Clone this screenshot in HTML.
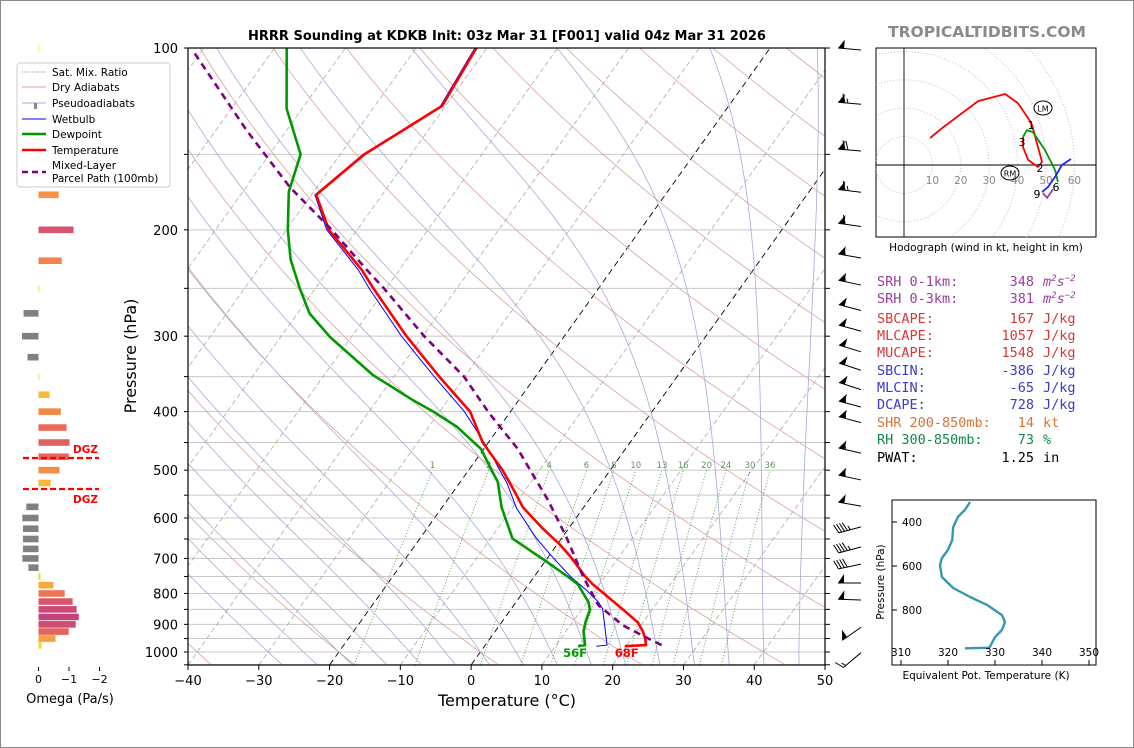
<!DOCTYPE html>
<html><head><meta charset="utf-8"><style>
html,body{margin:0;padding:0;background:#fff;}
svg{display:block;font-family:"DejaVu Sans","Liberation Sans",sans-serif;}
.mono{font-family:"DejaVu Sans Mono","Liberation Mono",monospace;font-size:13.5px;}
</style></head><body>
<svg id="svg" width="1134" height="748" viewBox="0 0 1134 748" xmlns="http://www.w3.org/2000/svg">
<defs><clipPath id="mainclip"><rect x="188" y="48" width="637" height="617"/></clipPath>
<clipPath id="hodoclip"><rect x="876" y="48" width="220" height="189"/></clipPath>
<clipPath id="thclip"><rect x="892" y="500" width="204" height="165"/></clipPath></defs>
<rect x="0.5" y="0.5" width="1133" height="747" fill="#fff" stroke="#888"/>
<text x="507" y="40" font-size="13" font-weight="bold" text-anchor="middle">HRRR Sounding at KDKB Init: 03z Mar 31 [F001] valid 04z Mar 31 2026</text>
<text x="987" y="37" font-size="15.5" font-weight="bold" fill="#8a8a8a" text-anchor="middle">TROPICALTIDBITS.COM</text>
<g id="bg" clip-path="url(#mainclip)"></g>
<g id="series" clip-path="url(#mainclip)"></g>
<rect x="188" y="48" width="637" height="617" fill="none" stroke="#000" stroke-width="1.2"/>
<g id="axes"></g>
<text x="507" y="706" font-size="16" text-anchor="middle">Temperature (°C)</text>
<text x="136" y="356" font-size="16" text-anchor="middle" transform="rotate(-90 136 356)">Pressure (hPa)</text>
<g id="barbs"></g>
<g id="omega"></g>
<text x="70" y="703" font-size="13" text-anchor="middle">Omega (Pa/s)</text>
<g id="legend">
<rect x="17" y="63" width="153" height="124" rx="3" fill="#fff" fill-opacity="0.8" stroke="#ccc"/>
<line x1="22" y1="72" x2="46" y2="72" stroke="#5a9a5a" stroke-dasharray="1,1.5"/>
<text x="52" y="76" font-size="10.5">Sat. Mix. Ratio</text>
<line x1="22" y1="87" x2="46" y2="87" stroke="#dca0a0"/>
<text x="52" y="91" font-size="10.5">Dry Adiabats</text>
<line x1="22" y1="103" x2="46" y2="103" stroke="#a8a8dc"/>
<rect x="34" y="103" width="3" height="6" fill="#888"/>
<text x="52" y="107" font-size="10.5">Pseudoadiabats</text>
<line x1="22" y1="119" x2="46" y2="119" stroke="#0000ff" stroke-width="1"/>
<text x="52" y="123" font-size="10.5">Wetbulb</text>
<line x1="22" y1="134" x2="46" y2="134" stroke="#009900" stroke-width="2.5"/>
<text x="52" y="138" font-size="10.5">Dewpoint</text>
<line x1="22" y1="150" x2="46" y2="150" stroke="#ff0000" stroke-width="2.5"/>
<text x="52" y="154" font-size="10.5">Temperature</text>
<line x1="22" y1="172" x2="46" y2="172" stroke="#800080" stroke-width="2.5" stroke-dasharray="6,4"/>
<text x="52" y="169" font-size="10.5">Mixed-Layer</text>
<text x="52" y="182" font-size="10.5">Parcel Path (100mb)</text>
</g>
<g id="hodo"></g>
<text x="986" y="251" font-size="10.5" text-anchor="middle">Hodograph (wind in kt, height in km)</text>
<g class="mono">
<text x="877" y="286" fill="#9b3ca0">SRH 0-1km:</text><text x="1034" y="286" fill="#9b3ca0" text-anchor="end">348</text><text x="1043" y="286" fill="#9b3ca0" font-style="italic">m<tspan font-size="9" dy="-5">2</tspan><tspan dy="5">s</tspan><tspan font-size="9" dy="-5">−2</tspan></text>
<text x="877" y="303" fill="#9b3ca0">SRH 0-3km:</text><text x="1034" y="303" fill="#9b3ca0" text-anchor="end">381</text><text x="1043" y="303" fill="#9b3ca0" font-style="italic">m<tspan font-size="9" dy="-5">2</tspan><tspan dy="5">s</tspan><tspan font-size="9" dy="-5">−2</tspan></text>
<text x="877" y="323" fill="#d43a3a">SBCAPE:</text><text x="1034" y="323" fill="#d43a3a" text-anchor="end">167</text><text x="1043" y="323" fill="#d43a3a">J/kg</text>
<text x="877" y="340" fill="#d43a3a">MLCAPE:</text><text x="1034" y="340" fill="#d43a3a" text-anchor="end">1057</text><text x="1043" y="340" fill="#d43a3a">J/kg</text>
<text x="877" y="357" fill="#d43a3a">MUCAPE:</text><text x="1034" y="357" fill="#d43a3a" text-anchor="end">1548</text><text x="1043" y="357" fill="#d43a3a">J/kg</text>
<text x="877" y="375" fill="#3a3acc">SBCIN:</text><text x="1034" y="375" fill="#3a3acc" text-anchor="end">-386</text><text x="1043" y="375" fill="#3a3acc">J/kg</text>
<text x="877" y="392" fill="#3a3acc">MLCIN:</text><text x="1034" y="392" fill="#3a3acc" text-anchor="end">-65</text><text x="1043" y="392" fill="#3a3acc">J/kg</text>
<text x="877" y="409" fill="#3a3acc">DCAPE:</text><text x="1034" y="409" fill="#3a3acc" text-anchor="end">728</text><text x="1043" y="409" fill="#3a3acc">J/kg</text>
<text x="877" y="427" fill="#d8743a">SHR 200-850mb:</text><text x="1034" y="427" fill="#d8743a" text-anchor="end">14</text><text x="1043" y="427" fill="#d8743a">kt</text>
<text x="877" y="444" fill="#108a4a">RH 300-850mb:</text><text x="1034" y="444" fill="#108a4a" text-anchor="end">73</text><text x="1043" y="444" fill="#108a4a">%</text>
<text x="877" y="462" fill="#000">PWAT:</text><text x="1034" y="462" fill="#000" text-anchor="end">1.25</text><text x="1043" y="462" fill="#000">in</text>
</g>
<g id="theta"></g>
<text x="986" y="679" font-size="10.5" text-anchor="middle">Equivalent Pot. Temperature (K)</text>
<text x="884" y="582" font-size="10.5" text-anchor="middle" transform="rotate(-90 884 582)">Pressure (hPa)</text>
</svg>
<script>
// ---- data ----
const tempP = [978,974,952,925,894,851,772,750,695,664,623,576,550,500,450,400,350,300,250,233,200,175,150,124.7,100];
const tempT = [19.8,22.7,22.0,20.9,19.3,15.9,9.0,7.2,3.1,0.4,-3.8,-8.6,-10.7,-15.2,-20.8,-25.7,-33.6,-42.3,-51.8,-55.3,-64,-69.3,-66.6,-60.5,-61.5];
const dewP = [978,974,925,890,851,826,772,750,710,649,576,523,494,461,424,400,383,348,301,275,250,224,200,173,150,126,100];
const dewT = [13.2,14.1,12.5,11.8,11.2,10.2,6.9,4.7,0.4,-6.9,-11.6,-14.7,-17.3,-20.4,-26,-30.9,-34.9,-43.1,-53,-58.3,-62.2,-66.4,-69.8,-73.5,-75.6,-82.2,-88.3];
const wetP = [978,974,910,848,826,792,750,695,649,578,525,461,400,350,300,250,233,200,175,150,125,100];
const wetT = [15.8,17.2,15.1,12.9,11.6,8.9,5.1,0.5,-3.5,-9.4,-13.3,-19.4,-26.5,-34.3,-43.0,-52.4,-55.8,-64.3,-69.5,-66.8,-60.7,-61.7];
const parcelP = [974,940,903,836,750,646,560,500,461,402,350,300,250,233,200,170,137,101];
const parcelT = [24.9,21.3,17.4,11.9,6.9,0.6,-5.8,-11.3,-15.2,-22.9,-30.1,-39.8,-50.3,-54.6,-63.6,-73.8,-85.6,-101.3];
const omegaP = [100,125,150,175,200,225,250,275,300,325,350,375,400,425,450,475,500,525,575,600,625,650,675,700,725,750,775,800,825,850,875,900,925,950,975];
const omegaVal = [-0.01,-0.02,-0.02,-0.66,-1.15,-0.76,-0.03,0.49,0.54,0.36,-0.03,-0.36,-0.73,-0.92,-1.02,-0.99,-0.69,-0.40,0.40,0.53,0.51,0.51,0.51,0.53,0.33,-0.07,-0.49,-0.86,-1.12,-1.25,-1.32,-1.22,-0.99,-0.56,-0.10];
const barbP = [100,123,147,172,196,221,245,270,292,316,339,365,390,414,465,515,569,616,665,710,763,814,903,995];
const barbSpd = [50,65,70,65,60,55,55,50,50,50,50,50,55,55,55,55,50,45,45,40,50,50,50,15];
const barbDir = [275,275,275,277,278,280,282,285,285,287,288,288,285,285,283,282,280,255,255,258,270,272,235,230];
const hodoRedU = [9.2,13.4,26.1,35.6,40.1,43.7,45.1,47.2,48.6,47.2,43.7,41.9,41.9];
const hodoRedV = [9.5,13.0,22.5,25.0,21.8,16.5,14.1,6.3,1.1,-0.7,1.8,6.3,9.9];
const hodoGreenU = [41.9,43.3,45.4,49.6,53.2,54.2];
const hodoGreenV = [9.9,12.3,11.6,5.3,-1.8,-6.0];
const hodoBlueU = [58.8,55.6,53.2,50.7,48.6];
const hodoBlueV = [2.1,0,-4.2,-7.7,-9.5];
const hodoPurpleU = [48.9,50.4,52.5];
const hodoPurpleV = [-9.9,-11.6,-8.5];
const thetaE = [324.7,323.6,322.1,321.1,320.9,320,318.7,318.3,318.7,321.1,324.7,328.3,331.5,332.1,331.5,330,328.9,328.5,323.6];
const thetaP = [309,345,377,423,482,527,564,595,650,700,741,777,823,855,891,923,968,972,974];
const xTicks = [-40,-30,-20,-10,0,10,20,30,40,50];
const pTicks = [100,200,300,400,500,600,700,800,900,1000];
const mixRatios = [1,2,4,6,8,10,13,16,20,24,30,36];
const omegaTicks = [0,-1,-2];
const hodoRings = [10,20,30,40,50,60];
const thetaXTicks = [310,320,330,340,350];
const thetaYTicks = [400,600,800];

// ---- scales ----
const NS='http://www.w3.org/2000/svg';
function Y(p){return 48+604*Math.log10(p/100);}
function X(T,p){return 188+(T+40)*7.078+0.714*(665-Y(p));}
function el(tag,parent,attrs){const e=document.createElementNS(NS,tag);for(const k in attrs)e.setAttribute(k,attrs[k]);document.getElementById(parent).appendChild(e);return e;}
function pathFrom(ps,ts){return ps.map((p,i)=>(i?'L':'M')+X(ts[i],p).toFixed(1)+','+Y(p).toFixed(1)).join('');}

for(let p=100;p<=1050;p+=50){
  const l=el('line','bg',{x1:188,x2:825,y1:Y(p),y2:Y(p),stroke:'#c8c8c8','stroke-width':1});
  
  
}
for(let t=-150;t<=50;t+=10){
  const dark=(t===0||t===-20);
  const l=el('line','bg',{x1:X(t,1050),y1:Y(1050),x2:X(t,100),y2:Y(100),stroke:dark?'#000':'#aaa','stroke-width':dark?0.9:0.8,'stroke-dasharray':dark?'6,4':'5,3'});
  
  
}
for(let th=233.15;th<=600;th+=20){
  let d='';
  for(let p=1050,i=0;p>=100;p-=10,i++){const T=th*Math.pow(p/1000,0.2857)-273.15;d+=(i?'L':'M')+X(T,p).toFixed(1)+','+Y(p).toFixed(1);}
  const e=el('path','bg',{d:d,fill:'none',stroke:'#dca0a0','stroke-width':0.8});
  
  
}
function es(Tc){return 6.112*Math.exp(17.67*Tc/(Tc+243.5));}
for(let t0=-30;t0<=45;t0+=5){
  let pts=[];
  let Tk=t0+273.15;
  for(let p=1000;p>=100;p-=5){
    pts.push([Tk-273.15,p]);
    const e_=es(Tk-273.15),rs=0.622*e_/(p-e_);
    const dTdp=(287*Tk+2.5e6*rs)/(p*(1005+2.5e6*2.5e6*rs*0.622/(287*Tk*Tk)));
    Tk-=dTdp*5;
  }
  const Tk2=t0+273.15;
  const e0=es(t0),rs0=0.622*e0/(1000-e0);
  const g0=(287*Tk2+2.5e6*rs0)/(1000*(1005+2.5e6*2.5e6*rs0*0.622/(287*Tk2*Tk2)));
  pts.unshift([t0+g0*50,1050]);
  const d=pts.map((q,i)=>(i?'L':'M')+X(q[0],q[1]).toFixed(1)+','+Y(q[1]).toFixed(1)).join('');
  const e=el('path','bg',{d:d,fill:'none',stroke:'#a8a8dc','stroke-width':0.8});
  
  
}
mixRatios.forEach(w=>{
  const wr=w/1000;let d='';
  const tdAt=p=>{const e=wr*p/(0.622+wr);const l=Math.log(e/6.112);return 243.5*l/(17.67-l);};
  for(let p=1050,i=0;p>=500;p-=10,i++){d+=(i?'L':'M')+X(tdAt(p),p).toFixed(1)+','+Y(p).toFixed(1);}
  const e=el('path','bg',{d:d,fill:'none',stroke:'#4f9a4f','stroke-width':0.9,'stroke-dasharray':'1,2'});
  
  
  const t=el('text','bg',{x:X(tdAt(500),500),y:468,'font-size':8.5,fill:'#5a9a5a','text-anchor':'middle'});
  t.textContent=String(w);
  
  
});

const wb=el('path','series',{d:pathFrom(wetP,wetT),fill:'none',stroke:'#0000ff','stroke-width':1});


const dw=el('path','series',{d:pathFrom(dewP,dewT),fill:'none',stroke:'#009900','stroke-width':2.6,'stroke-linejoin':'round'});


const tp=el('path','series',{d:pathFrom(tempP,tempT),fill:'none',stroke:'#ff0000','stroke-width':2.6,'stroke-linejoin':'round'});


const pp=el('path','series',{d:pathFrom(parcelP,parcelT),fill:'none',stroke:'#800080','stroke-width':2.6,'stroke-dasharray':'7,5'});


const l56=el('text','series',{x:X(dewT[0],dewP[0])-3,y:657,'font-size':11.5,'font-weight':'bold',fill:'#009900','text-anchor':'middle'});
l56.textContent='56F';


const l68=el('text','series',{x:X(tempT[0],tempP[0])+2,y:657,'font-size':11.5,'font-weight':'bold',fill:'#ff0000','text-anchor':'middle'});
l68.textContent='68F';



xTicks.forEach(t=>{
  const x=188+(t+40)*7.078;
  const tk=el('line','axes',{x1:x,x2:x,y1:665,y2:670,stroke:'#000'});
  
  
  const lb=el('text','axes',{x:x,y:685,'font-size':13,'text-anchor':'middle'});
  lb.textContent=t<0?'−'+Math.abs(t):String(t);
  
  
});
for(let p=100;p<=1050;p+=50){
  const y=Y(p);
  const a=el('line','axes',{x1:184,x2:188,y1:y,y2:y,stroke:'#000'});
  
  
  const b=el('line','axes',{x1:825,x2:830,y1:y,y2:y,stroke:'#000'});
  
  
}
pTicks.forEach(p=>{
  const lb=el('text','axes',{x:178,y:Y(p)+5,'font-size':13,'text-anchor':'end'});
  lb.textContent=String(p);
  
  
});

barbP.forEach((p,i)=>{
  const spd=barbSpd[i],dir=barbDir[i]*Math.PI/180;
  const ux=Math.sin(dir), uy=-Math.cos(dir);
  const bx=861,by=Y(p)+2, L=23;
  const tx=bx+ux*L, ty=by+uy*L;
  const px=uy, py=-ux;
  let side=(py<0)?1:-1; if(Math.abs(py)<0.01) side=1;
  const nx=px*side, ny=py*side;
  let d='M'+bx+','+by+'L'+tx.toFixed(1)+','+ty.toFixed(1);
  let rem=Math.round(spd/5)*5, pos=0, flags='';
  while(rem>=50){
    const ax=tx-ux*pos, ay=ty-uy*pos;
    flags+='M'+ax.toFixed(1)+','+ay.toFixed(1)+'L'+(ax-ux*6+nx*9).toFixed(1)+','+(ay-uy*6+ny*9).toFixed(1)+'L'+(ax-ux*6).toFixed(1)+','+(ay-uy*6).toFixed(1)+'Z';
    pos+=7;rem-=50;
  }
  while(rem>=10){
    const ax=tx-ux*pos, ay=ty-uy*pos;
    d+='M'+ax.toFixed(1)+','+ay.toFixed(1)+'L'+(ax+ux*3+nx*9).toFixed(1)+','+(ay+uy*3+ny*9).toFixed(1);
    pos+=3;rem-=10;
  }
  if(rem>=5){
    if(pos===0)pos=3;
    const ax=tx-ux*pos, ay=ty-uy*pos;
    d+='M'+ax.toFixed(1)+','+ay.toFixed(1)+'L'+(ax+ux*1.5+nx*4.5).toFixed(1)+','+(ay+uy*1.5+ny*4.5).toFixed(1);
  }
  const s=el('path','barbs',{d:d,fill:'none',stroke:'#000','stroke-width':1});
  
  
  if(flags){
    const f=el('path','barbs',{d:flags,fill:'#000'});
    
    
  }
});

function omegaColor(m){
  const st=[[0,[245,230,26]],[0.4,[251,181,55]],[0.7,[245,140,70]],[0.95,[232,104,90]],[1.15,[214,84,110]],[1.35,[192,64,127]]];
  if(m<=0)return 'rgb(245,230,26)';
  for(let i=1;i<st.length;i++){if(m<=st[i][0]){const a=st[i-1],b=st[i],f=(m-a[0])/(b[0]-a[0]);return 'rgb('+a[1].map((c,j)=>Math.round(c+(b[1][j]-c)*f)).join(',')+')';}}
  return 'rgb(192,64,127)';
}
const OX=38.5, OS=30.5;
omegaP.forEach((p,i)=>{
  const v=omegaVal[i], x2=OX-v*OS, y=Y(p);
  const r=el('rect','omega',{x:Math.min(OX,x2),y:y-3.3,width:Math.max(Math.abs(x2-OX),0.8),height:6.6,fill:v>0?'#808080':omegaColor(-v)});
  
  
});
omegaTicks.forEach(v=>{
  const x=OX-v*OS;
  const t=el('line','omega',{x1:x,x2:x,y1:667,y2:671,stroke:'#000'});
  
  
  const lb=el('text','omega',{x:x,y:683,'font-size':11,'text-anchor':'middle'});
  lb.textContent=v<0?'−'+Math.abs(v):'0';
  
  
});
[[458,'DGZ',453],[489,'DGZ',503]].forEach(a=>{
  const l=el('line','omega',{x1:23,x2:99,y1:a[0],y2:a[0],stroke:'#ff0000','stroke-width':2.2,'stroke-dasharray':'6,3'});
  
  
  const t=el('text','omega',{x:73,y:a[2],'font-size':10.5,'font-weight':'bold',fill:'#ff0000'});
  t.textContent=a[1];
  
  
});

const HX=904,HY=165,HS=2.84;
const hb=el('rect','hodo',{x:876,y:48,width:220,height:189,fill:'#fff',stroke:'#000','stroke-width':1});


const hg=el('g','hodo',{'clip-path':'url(#hodoclip)'});
hg.setAttribute('id','hodoin');


hodoRings.forEach(r=>{
  const c=el('circle','hodoin',{cx:HX,cy:HY,r:r*HS,fill:'none',stroke:'#bbb','stroke-width':0.9,'stroke-dasharray':'1,2'});
  
  
});
[[876,HY,1096,HY],[HX,48,HX,237]].forEach(a=>{
  const l=el('line','hodoin',{x1:a[0],y1:a[1],x2:a[2],y2:a[3],stroke:'#000','stroke-width':0.9});
  
  
});
hodoRings.forEach(r=>{
  const t=el('text','hodoin',{x:HX+r*HS,y:184,'font-size':10.5,fill:'#888','text-anchor':'middle'});
  t.textContent=String(r);
  
  
});
[[hodoRedU,hodoRedV,'#ff0000'],[hodoGreenU,hodoGreenV,'#009900'],[hodoBlueU,hodoBlueV,'#2222ff'],[hodoPurpleU,hodoPurpleV,'#a040b0']].forEach(s=>{
  const d=s[0].map((u,i)=>(i?'L':'M')+(HX+u*HS).toFixed(1)+','+(HY-s[1][i]*HS).toFixed(1)).join('');
  const e=el('path','hodoin',{d:d,fill:'none',stroke:s[2],'stroke-width':1.8,'stroke-linejoin':'round'});
  
  
});
[['1',1031,129],['3',1022,146],['2',1040,172],['6',1056,191],['9',1037,198]].forEach(a=>{
  const t=el('text','hodoin',{x:a[1],y:a[2],'font-size':11,'text-anchor':'middle'});
  t.textContent=a[0];
  
  
});
[['LM',1043,108],['RM',1010,173]].forEach(a=>{
  const c=el('ellipse','hodoin',{cx:a[1],cy:a[2],rx:9,ry:7,fill:'none',stroke:'#000','stroke-width':1});
  
  
  const t=el('text','hodoin',{x:a[1],y:a[2]+3.5,'font-size':8,'text-anchor':'middle'});
  t.textContent=a[0];
  
  
});

const TX=t=>901+(t-310)*4.7, TY=p=>522+(p-400)*0.22;
const tf=el('rect','theta',{x:892,y:500,width:204,height:165,fill:'#fff',stroke:'#000','stroke-width':1});


const tl=el('path','theta',{d:thetaE.map((t,i)=>(i?'L':'M')+TX(t).toFixed(1)+','+TY(thetaP[i]).toFixed(1)).join(''),fill:'none',stroke:'#3399b0','stroke-width':2.4,'stroke-linejoin':'round','clip-path':'url(#thclip)'});


thetaXTicks.forEach(t=>{
  const k=el('line','theta',{x1:TX(t),x2:TX(t),y1:660,y2:665,stroke:'#000'});
  
  
  const lb=el('text','theta',{x:TX(t),y:656,'font-size':10.5,'text-anchor':'middle'});
  lb.textContent=String(t);
  
  
});
thetaYTicks.forEach(p=>{
  const k=el('line','theta',{x1:892,x2:897,y1:TY(p),y2:TY(p),stroke:'#000'});
  
  
  const lb=el('text','theta',{x:902,y:TY(p)+4,'font-size':10.5});
  lb.textContent=String(p);
  
  
});
</script>
</body></html>
